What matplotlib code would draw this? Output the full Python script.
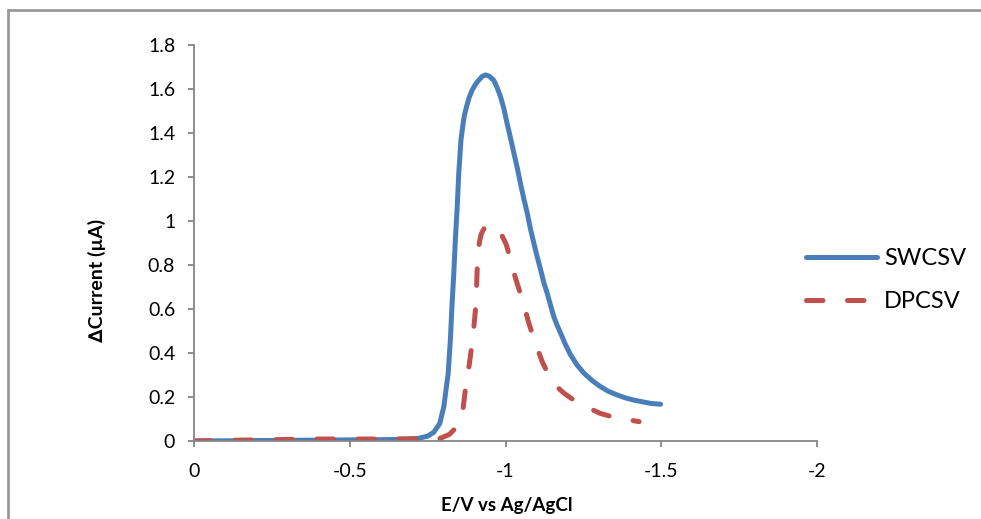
import matplotlib
matplotlib.use("Agg")
import matplotlib.pyplot as plt
from matplotlib.patches import Rectangle

plt.rcParams['font.family'] = ['Lato', 'DejaVu Sans']

# square-wave cathodic stripping voltammogram
sw_potential = [0, -0.1, -0.2, -0.3, -0.4, -0.5, -0.6, -0.68, -0.72, -0.75, -0.77,
                -0.789, -0.802, -0.816, -0.823, -0.828, -0.834, -0.839, -0.845, -0.850,
                -0.857, -0.864, -0.868, -0.875, -0.883, -0.893, -0.904, -0.914, -0.925,
                -0.936, -0.948, -0.962, -0.973, -0.984, -0.995, -1.005, -1.016, -1.027,
                -1.038, -1.048, -1.059, -1.070, -1.080, -1.091, -1.102, -1.113, -1.123,
                -1.134, -1.145, -1.155, -1.166, -1.177, -1.192, -1.209, -1.230, -1.252,
                -1.278, -1.305, -1.330, -1.359, -1.385, -1.412, -1.440, -1.466, -1.498]
sw_current = [0.0, 0.001, 0.002, 0.003, 0.004, 0.005, 0.006, 0.008, 0.012, 0.022, 0.040,
              0.080, 0.156, 0.308, 0.459, 0.61, 0.762, 0.914, 1.065, 1.217,
              1.368, 1.444, 1.48, 1.52, 1.56, 1.595, 1.622, 1.64, 1.657,
              1.664, 1.658, 1.64, 1.607, 1.565, 1.51, 1.444, 1.378, 1.308,
              1.24, 1.171, 1.10, 1.035, 0.965, 0.899, 0.836, 0.777, 0.72,
              0.671, 0.615, 0.565, 0.525, 0.49, 0.44, 0.391, 0.345, 0.308,
              0.275, 0.247, 0.226, 0.209, 0.196, 0.186, 0.178, 0.171, 0.167]

# differential pulse cathodic stripping voltammogram
dp_potential = [0, -0.1, -0.2, -0.3, -0.4, -0.5, -0.6, -0.7, -0.75, -0.79, -0.82, -0.839,
                -0.855, -0.864, -0.871, -0.882, -0.890, -0.898, -0.904, -0.907, -0.909,
                -0.914, -0.918, -0.922, -0.927, -0.932, -0.942, -0.952, -0.962, -0.972,
                -0.980, -0.988, -0.995, -1.003, -1.012, -1.021, -1.039, -1.059, -1.075,
                -1.096, -1.118, -1.135, -1.150, -1.170, -1.188, -1.215, -1.247, -1.275,
                -1.303, -1.335, -1.370, -1.400, -1.429]
dp_current = [0.0, 0.003, 0.005, 0.007, 0.009, 0.009, 0.009, 0.010, 0.010, 0.012, 0.03, 0.058,
              0.11, 0.149, 0.232, 0.33, 0.414, 0.512, 0.603, 0.694, 0.777,
              0.883, 0.915, 0.94, 0.955, 0.967, 0.978, 0.982, 0.976, 0.965,
              0.952, 0.935, 0.915, 0.891, 0.845, 0.792, 0.709, 0.618, 0.535,
              0.444, 0.36, 0.31, 0.27, 0.24, 0.217, 0.19, 0.164, 0.145,
              0.126, 0.113, 0.103, 0.095, 0.088]

x_ticks = [0, -0.5, -1, -1.5, -2]
y_ticks = [0, 0.2, 0.4, 0.6, 0.8, 1, 1.2, 1.4, 1.6, 1.8]

blue = '#4A7EBB'
red = '#C0504D'
axis_grey = '#868686'

fig = plt.figure(figsize=(9.81, 5.19), dpi=100)
ax = fig.add_axes([194 / 981, 1 - 441 / 519, (817 - 194) / 981, (441 - 45) / 519])

ax.plot(sw_potential, sw_current, color=blue, lw=3.6, solid_capstyle='round',
        solid_joinstyle='round', label='SWCSV')
ax.plot(dp_potential, dp_current, color=red, lw=3.6, dashes=(3.3, 4.9),
        dash_capstyle='round', dash_joinstyle='round', label='DPCSV')

ax.set_xlim(0, -2)
ax.set_ylim(0, 1.8)
ax.set_xticks(x_ticks)
ax.set_xticklabels(['0', '-0.5', '-1', '-1.5', '-2'])
ax.set_yticks(y_ticks)
ax.set_yticklabels(['0', '0.2', '0.4', '0.6', '0.8', '1', '1.2', '1.4', '1.6', '1.8'])

for side in ['top', 'right']:
    ax.spines[side].set_visible(False)
for side in ['left', 'bottom']:
    ax.spines[side].set_color(axis_grey)
    ax.spines[side].set_linewidth(1.3)
ax.tick_params(axis='both', colors=axis_grey, labelcolor='black', labelsize=14,
               length=4.5, width=1.3, direction='out')
ax.tick_params(axis='x', pad=11)
ax.tick_params(axis='y', pad=9)

ax.set_xlabel('E/V vs Ag/AgCl', fontsize=13.5, fontweight='bold')
ax.xaxis.set_label_coords((507 - 194) / 623, -(497 - 441) / 396)
ax.set_ylabel('\u2206Current (\u00b5A)', fontsize=14, fontweight='bold')
ax.yaxis.set_label_coords((106 - 194) / 623, (441 - 280) / 396)

ax.legend(loc='center left', bbox_to_anchor=(806 / 981, 1 - 280 / 519),
          bbox_transform=fig.transFigure, frameon=False, fontsize=17,
          handlelength=3.0, handletextpad=0.3, labelspacing=0.95,
          borderaxespad=0, borderpad=0)

# outer chart frame
fig.patches.append(Rectangle((8 / 981, -0.1), 1.2, 1.1 - 10 / 519, transform=fig.transFigure,
                             fill=False, edgecolor='#999999', lw=2, clip_on=False))

fig.savefig('out.png', dpi=100)
